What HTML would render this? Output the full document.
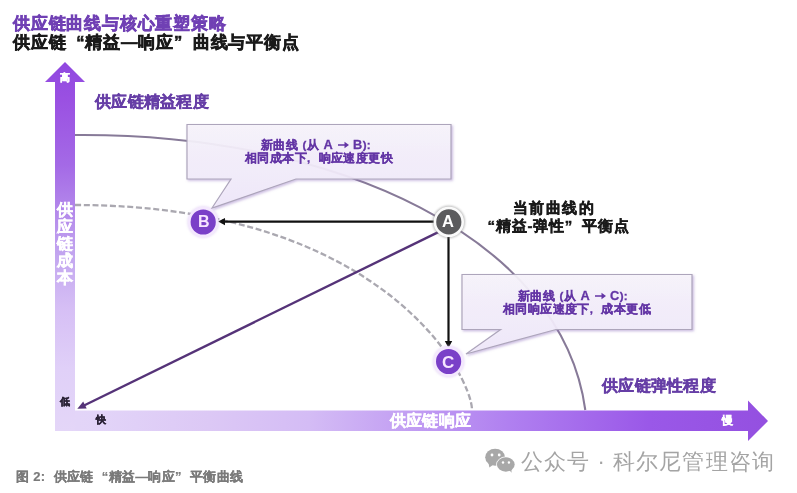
<!DOCTYPE html>
<html><head><meta charset="utf-8">
<style>
html,body{margin:0;padding:0;background:#fff;}
body{-webkit-font-smoothing:antialiased;width:797px;height:493px;overflow:hidden;position:relative;font-family:"Liberation Sans",sans-serif;}
.t{position:absolute;white-space:nowrap;font-weight:bold;line-height:1;will-change:transform;}
.s{-webkit-text-stroke:0.45px currentColor;}
.ql{display:inline-block;width:1.15em;text-align:right;}
.qr{display:inline-block;width:1.15em;text-align:left;}
.cl{display:inline-block;width:1em;text-align:left;}
.ar{display:inline-block;vertical-align:middle;}
.lt{font-size:12.8px;}
svg.main{position:absolute;left:0;top:0;}
</style></head><body>
<svg class="main" width="797" height="493" viewBox="0 0 797 493">
<defs>
<linearGradient id="gy" x1="0" y1="62" x2="0" y2="431" gradientUnits="userSpaceOnUse">
<stop offset="0" stop-color="#9048e0"/>
<stop offset="0.1" stop-color="#9a50e2"/>
<stop offset="0.28" stop-color="#a46ae6"/>
<stop offset="0.534" stop-color="#c4a8f0"/>
<stop offset="0.669" stop-color="#d6bff5"/>
<stop offset="0.832" stop-color="#e0d0f8"/>
<stop offset="1" stop-color="#e4d6f8"/>
</linearGradient>
<linearGradient id="gx" x1="55" y1="0" x2="768" y2="0" gradientUnits="userSpaceOnUse">
<stop offset="0" stop-color="#e4d6f8"/>
<stop offset="0.063" stop-color="#e2d4f8"/>
<stop offset="0.216" stop-color="#dcc8f5"/>
<stop offset="0.356" stop-color="#d4bcf5"/>
<stop offset="0.637" stop-color="#b080f0"/>
<stop offset="0.833" stop-color="#9a58e8"/>
<stop offset="1" stop-color="#9450e0"/>
</linearGradient>
<linearGradient id="gb" x1="0" y1="0" x2="0" y2="1">
<stop offset="0" stop-color="#f9f6fc" stop-opacity="0.9"/>
<stop offset="1" stop-color="#f1e9fb" stop-opacity="0.9"/>
</linearGradient>
<filter id="sh" x="-5%" y="-5%" width="115%" height="130%">
<feDropShadow dx="1.3" dy="1.3" stdDeviation="0.9" flood-color="#9070c0" flood-opacity="0.5"/>
</filter>
<filter id="bl" x="-30%" y="-30%" width="160%" height="160%"><feGaussianBlur stdDeviation="1.2"/></filter>
</defs>
<!-- curves -->
<path d="M75,135 C338.6,132.8 562.1,239.2 585.3,410" fill="none" stroke="#877a98" stroke-width="2.1"/>
<path d="M75,205 C385.3,205 472,377.4 472,410" fill="none" stroke="#aaa8b0" stroke-width="2.3" stroke-dasharray="6 2.7"/>
<!-- axes -->
<path d="M55,410.5 H748 V400.5 L768,421 L748,441 V431 H55 Z" fill="url(#gx)"/>
<path d="M55,431 V82 H45 L65,62 L85,82 H75 V431 Z" fill="url(#gy)"/>
<!-- callouts -->
<path d="M187,124.5 H451 V179 H296 L212,208 L231,179 H187 Z" fill="url(#gb)" stroke="#ada5bb" stroke-width="1.2" filter="url(#sh)"/>
<path d="M462,274.5 H692 V329.5 H556 L466,354 L500.6,329.5 H462 Z" fill="url(#gb)" stroke="#ada5bb" stroke-width="1.2" filter="url(#sh)"/>
<!-- purple diag -->
<line x1="446" y1="228.3" x2="84" y2="405.5" stroke="#553378" stroke-width="2.4"/>
<path d="M77.3,408.8 L83.2,401.6 L86.7,408.5 Z" fill="#553378"/>
<!-- black arrows -->
<line x1="448" y1="221.6" x2="223" y2="221.6" stroke="#111" stroke-width="2.2"/>
<path d="M218,221.6 L225,218 L225,225.2 Z" fill="#111"/>
<line x1="448.5" y1="221.5" x2="448.5" y2="342" stroke="#111" stroke-width="2.2"/>
<path d="M448.5,348 L444.8,341 L452.2,341 Z" fill="#111"/>
<!-- circles -->
<circle cx="203.2" cy="222" r="16" fill="#d8c4f0" opacity="0.5" filter="url(#bl)"/>
<circle cx="448.8" cy="221.9" r="16.2" fill="#888" opacity="0.55" filter="url(#bl)"/>
<circle cx="448.6" cy="361.5" r="16" fill="#d8c4f0" opacity="0.5" filter="url(#bl)"/>
<circle cx="203.2" cy="222" r="13.9" fill="#7a40c8" stroke="#f4e8fe" stroke-width="2.6"/>
<circle cx="448.8" cy="221.9" r="13.9" fill="#5b5b5d" stroke="#fafafa" stroke-width="2.6"/>
<circle cx="448.6" cy="361.5" r="13.9" fill="#7a40c8" stroke="#f4e8fe" stroke-width="2.6"/>
<!-- wechat icon -->
<g fill="#a8a8a8">
<ellipse cx="495.1" cy="457.3" rx="9.9" ry="8.5"/>
<path d="M488.5,463 L489.4,467.5 L493.5,464.5 Z"/>
<ellipse cx="505.8" cy="464.5" rx="9.6" ry="7.9" fill="#fff"/>
<ellipse cx="505.8" cy="464.5" rx="8.9" ry="7.2"/>
<path d="M509,469.5 L511.5,472.8 L511.5,468 Z"/>
</g>
<g fill="#fff">
<circle cx="492" cy="455" r="1.4"/><circle cx="499.2" cy="455" r="1.4"/>
<circle cx="503" cy="462.5" r="1.2"/><circle cx="508.9" cy="462.5" r="1.2"/>
</g>
</svg>
<div class="t s" id="t1" style="-webkit-text-stroke:0.6px currentColor;left:13px;top:14.5px;font-size:16.5px;letter-spacing:0.8px;color:#7040b4">供应链曲线与核心重塑策略</div>
<div class="t s" id="t2" style="-webkit-text-stroke:0.6px currentColor;left:13px;top:34px;font-size:16.5px;letter-spacing:0.8px;color:#1a1a1a">供应链<span class="ql">“</span>精益—响应<span class="qr">”</span>曲线与平衡点</div>
<div class="t s" id="gao" style="left:60px;top:73px;font-size:10.4px;color:#fff">高</div>
<div class="t s" id="l1" style="left:95px;top:93.5px;font-size:15.5px;letter-spacing:0.3px;color:#663ea6">供应链精益程度</div>
<div class="t s" id="vt" style="left:56px;top:201px;font-size:16px;color:#fff;line-height:17px;width:17px;white-space:normal;text-align:center">供应链成本</div>
<div class="t s" id="di" style="left:59.5px;top:397px;font-size:10.3px;color:#2a2236">低</div>
<div class="t s" id="kuai" style="left:95.5px;top:415px;font-size:10.3px;color:#2a2236">快</div>
<div class="t s" id="xy" style="left:390px;top:413px;font-size:16px;letter-spacing:0.2px;color:#fff">供应链响应</div>
<div class="t s" id="man" style="left:721.5px;top:415px;font-size:10.8px;color:#fff">慢</div>
<div class="t" id="B" style="left:198px;top:214px;font-size:16px;color:#f6e4ff">B</div>
<div class="t" id="A" style="left:442px;top:213px;font-size:16.5px;color:#fff">A</div>
<div class="t" id="C" style="left:442px;top:354px;font-size:17px;color:#f6e4ff">C</div>
<div class="t s" id="b1l1" style="-webkit-text-stroke:0.3px currentColor;word-spacing:0.8px;margin-left:-3px;left:187px;top:139px;width:264px;text-align:center;font-size:11.5px;letter-spacing:0.4px;color:#6335a5">新曲线 (从 <span class="lt">A</span> <svg class="ar" width="11" height="8" viewBox="0 0 11 8" style="margin-top:-2px"><path d="M0,3.2 H6.5 V0.8 L11,4 L6.5,7.2 V4.8 H0 Z" fill="#6335a5"/></svg> <span class="lt">B</span>):</div>
<div class="t s" id="b1l2" style="-webkit-text-stroke:0.3px currentColor;left:187px;top:153px;width:264px;text-align:center;font-size:11.5px;letter-spacing:0.4px;color:#6335a5">相同成本下<span class="cl">,</span>响应速度更快</div>
<div class="t s" id="b2l1" style="-webkit-text-stroke:0.3px currentColor;word-spacing:0.8px;margin-left:-4px;left:462px;top:289.5px;width:230px;text-align:center;font-size:11.5px;letter-spacing:0.4px;color:#6335a5">新曲线 (从 <span class="lt">A</span> <svg class="ar" width="11" height="8" viewBox="0 0 11 8" style="margin-top:-2px"><path d="M0,3.2 H6.5 V0.8 L11,4 L6.5,7.2 V4.8 H0 Z" fill="#6335a5"/></svg> <span class="lt">C</span>):</div>
<div class="t s" id="b2l2" style="-webkit-text-stroke:0.3px currentColor;left:462px;top:304px;width:230px;text-align:center;font-size:11.5px;letter-spacing:0.4px;color:#6335a5">相同响应速度下<span class="cl">,</span>成本更低</div>
<div class="t s" id="dq1" style="left:474px;top:200px;width:160px;text-align:center;font-size:15px;letter-spacing:1.4px;color:#1a1a1a">当前曲线的</div>
<div class="t s" id="dq2" style="left:474px;top:218px;width:160px;text-align:center;font-size:15px;letter-spacing:0.8px;color:#1a1a1a"><span class="ql">“</span>精益-弹性<span class="qr">”</span>平衡点</div>
<div class="t s" id="l2" style="left:601.5px;top:378px;font-size:15.5px;letter-spacing:0.3px;color:#663ea6">供应链弹性程度</div>
<div class="t" id="wm" style="left:521px;top:451px;font-size:22px;letter-spacing:1.1px;font-weight:normal;color:#a4a4a4">公众号 · 科尔尼管理咨询</div>
<div class="t s" id="cap" style="-webkit-text-stroke:0.2px currentColor;left:16px;top:470px;font-size:13px;letter-spacing:0.3px;color:#7a7a7a">图 2<span class="cl">:</span>供应链<span class="ql">“</span>精益—响应<span class="qr">”</span>平衡曲线</div>
</body></html>
